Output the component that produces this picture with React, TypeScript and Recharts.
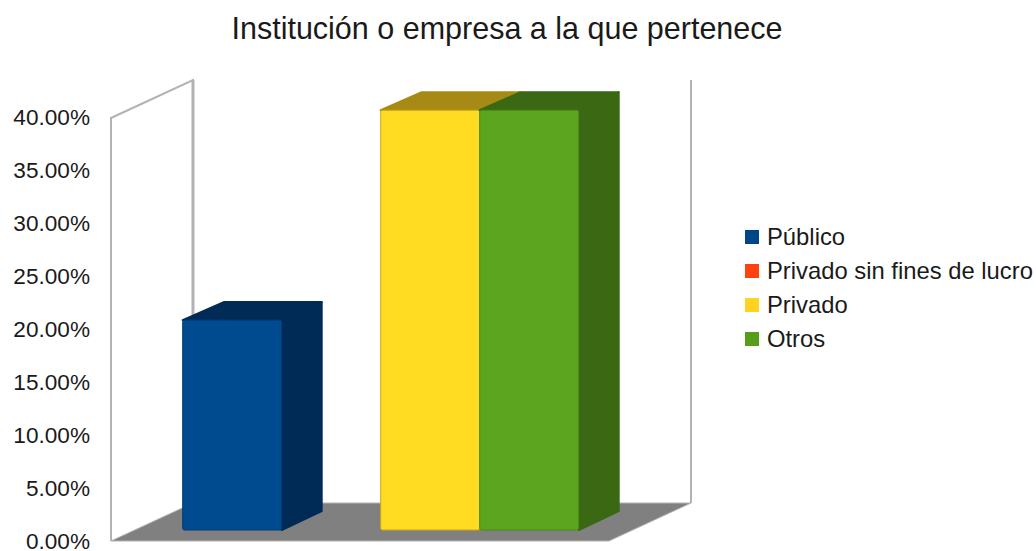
import { BarChart, Bar, XAxis, YAxis, Legend, usePlotArea } from "recharts";

const categories = ["Institución"];
const seriesNames = ["Público", "Privado sin fines de lucro", "Privado", "Otros"];
const seriesValues = [20, 0, 40, 40];
const yTicks = [0, 5, 10, 15, 20, 25, 30, 35, 40];
const titleText = "Institución o empresa a la que pertenece";

const faceColors = ["#004586", "#ff420e", "#ffd320", "#579d1c"];
const barFaces = ["#004a8f", "#ff420e", "#ffdc21", "#5ca51f"];
const sideColors = ["#002b56", "#9e2909", "#a68a15", "#3a6813"];
const edgeColors = ["#003c73", "#d0360b", "#c8a81a", "#4c8a19"];

const FONT = "'Liberation Sans', Arial, sans-serif";
const WALL_DX = 82;
const WALL_DY = 38;
const BAR_DX = 41;
const BAR_DY = 19;
const BAR_SHIFT_X = 20.7;
const BAR_SHIFT_Y = 11;

const chartData = categories.map((name) => {
  const row: any = { name };
  seriesNames.forEach((s, i) => {
    row[s] = seriesValues[i];
  });
  return row;
});

// walls and floor of the 3d box, behind the bars
const Box3D = () => {
  const area = usePlotArea();
  if (!area) return null;
  const left = area.x;
  const right = area.x + area.width;
  const top = area.y;
  const bottom = area.y + area.height;
  return (
    <g>
      <path
        d={`M${left} ${bottom}V${top + 1}L${left + WALL_DX} ${top - WALL_DY + 1}V${bottom - WALL_DY}`}
        fill="#fff"
        stroke="#b3b3b3"
        strokeWidth={2}
      />
      <line x1={left + WALL_DX} x2={left + WALL_DX} y1={top - WALL_DY + 1} y2={bottom - WALL_DY} stroke="#b3b3b3" strokeWidth={3} />
      <line x1={right + WALL_DX} x2={right + WALL_DX} y1={top - WALL_DY + 1} y2={bottom - WALL_DY} stroke="#b3b3b3" strokeWidth={2} />
      <polygon
        points={`${left},${bottom} ${right},${bottom} ${right + WALL_DX},${bottom - WALL_DY} ${left + WALL_DX},${bottom - WALL_DY}`}
        fill="#808080"
        stroke="#b3b3b3"
        strokeWidth={1}
      />
    </g>
  );
};

const Bar3D = (props: any) => {
  const { x, y, width, height, index } = props;
  if (!height || height <= 0) return null;
  const i = props.seriesIndex;
  const x0 = x + BAR_SHIFT_X;
  const bottom = y + height - BAR_SHIFT_Y;
  const top = bottom - height * 0.99;
  const x1 = x0 + width;
  return (
    <g key={index} strokeLinejoin="round" strokeWidth={2}>
      <polygon
        points={`${x0},${top} ${x1},${top} ${x1 + BAR_DX - 1},${top - BAR_DY + 1} ${x0 + BAR_DX},${top - BAR_DY + 1}`}
        fill={sideColors[i]}
        stroke={sideColors[i]}
      />
      <polygon
        points={`${x1},${top} ${x1 + BAR_DX - 1},${top - BAR_DY + 1} ${x1 + BAR_DX - 1},${bottom - BAR_DY} ${x1},${bottom}`}
        fill={sideColors[i]}
        stroke={sideColors[i]}
      />
      <rect x={x0} y={top} width={width} height={bottom - top} fill={barFaces[i]} stroke={edgeColors[i]} strokeWidth={1} rx={2} />
    </g>
  );
};

const LegendBox = ({ payload }: any) => (
  <div style={{ fontFamily: FONT, fontSize: 23.8, color: "#1a1a1a" }}>
    {(payload || []).map((item: any) => (
      <div key={item.value} style={{ height: 34, lineHeight: "34px", whiteSpace: "nowrap", position: "relative", paddingLeft: 22 }}>
        <span
          style={{
            position: "absolute",
            left: 0,
            top: 10,
            width: 14,
            height: 14,
            background: item.color,
          }}
        />
        {item.value}
      </div>
    ))}
  </div>
);

export default function App() {
  return (
    <div style={{ position: "absolute", left: 0, top: 0, width: 1036, height: 551 }}>
      <BarChart
        width={1036}
        height={551}
        data={chartData}
        margin={{ top: 117, right: 427, bottom: 10, left: 11 }}
        barCategoryGap={51}
        barGap={0}
      >
        <text x={507} y={39} textAnchor="middle" fontFamily={FONT} fontSize={30.5} fill="#1a1a1a">
          {titleText}
        </text>
        <Box3D />
        <XAxis dataKey="name" hide />
        <YAxis
          width={100}
          domain={[0, 40]}
          ticks={yTicks}
          interval={0}
          axisLine={false}
          tickLine={false}
          tickSize={0}
          tickMargin={21}
          tickFormatter={(v: number) => `${v.toFixed(2)}%`}
          tick={{ fontFamily: FONT, fontSize: 22.6, fill: "#1a1a1a" }}
        />
        <Legend
          layout="vertical"
          align="center"
          verticalAlign="middle"
          itemSorter={null}
          content={<LegendBox />}
          wrapperStyle={{ left: 745, top: 220, width: 291 }}
        />
        {seriesNames.map((s, i) => (
          <Bar
            key={s}
            dataKey={s}
            name={s}
            fill={faceColors[i]}
            isAnimationActive={false}
            shape={(p: any) => <Bar3D {...p} seriesIndex={i} />}
          />
        ))}
      </BarChart>
    </div>
  );
}
